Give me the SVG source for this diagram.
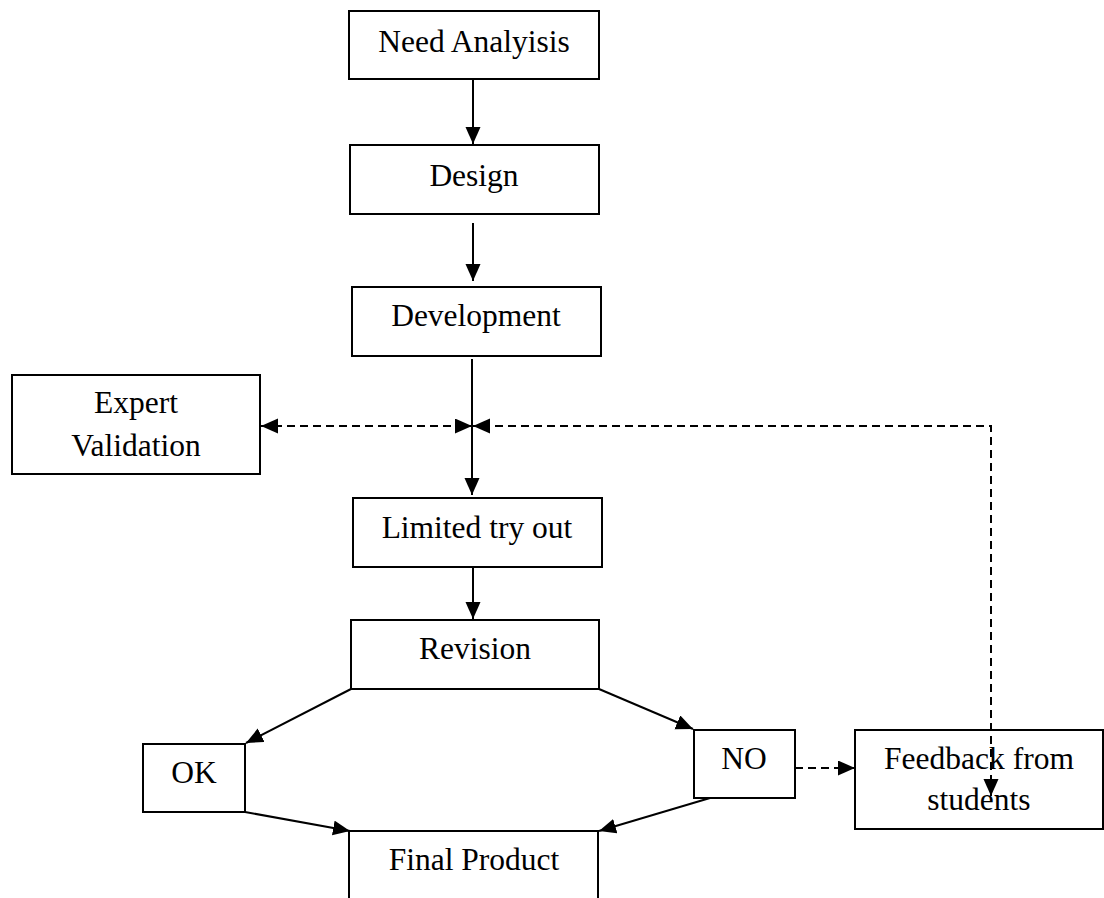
<svg xmlns="http://www.w3.org/2000/svg" width="1104" height="898" viewBox="0 0 1104 898">
<style>
.box{fill:#fff;stroke:#000;stroke-width:2}
.t{font-family:"Liberation Serif","Times New Roman",serif;font-size:31.5px;fill:#000;text-anchor:middle}
.c{fill:none;stroke:#000;stroke-width:2}
.d{fill:none;stroke:#000;stroke-width:2;stroke-dasharray:8 5}
</style>
<defs>
<marker id="ah" markerUnits="userSpaceOnUse" markerWidth="18" markerHeight="16" refX="17" refY="7.5" orient="auto">
<path d="M0,0 L17,7.5 L0,15 Z" fill="#000"/>
</marker>
<marker id="ahs" markerUnits="userSpaceOnUse" markerWidth="18" markerHeight="16" refX="17" refY="7.5" orient="auto-start-reverse">
<path d="M0,0 L17,7.5 L0,15 Z" fill="#000"/>
</marker>
</defs>
<g id="need-analysis">
<rect class="box" x="349" y="11" width="250" height="68"/>
<text class="t" x="474" y="52">Need Analyisis</text>
</g>
<g id="design">
<rect class="box" x="350" y="145" width="249" height="69"/>
<text class="t" x="474" y="186">Design</text>
</g>
<g id="development">
<rect class="box" x="352" y="287" width="249" height="69"/>
<text class="t" x="476" y="326">Development</text>
</g>
<g id="expert-validation">
<rect class="box" x="12" y="375" width="248" height="99"/>
<text class="t" x="136" y="413">Expert</text>
<text class="t" x="136" y="456">Validation</text>
</g>
<g id="limited-try-out">
<rect class="box" x="353" y="498" width="249" height="69"/>
<text class="t" x="477" y="538">Limited try out</text>
</g>
<g id="revision">
<rect class="box" x="351" y="620" width="248" height="69"/>
<text class="t" x="475" y="659">Revision</text>
</g>
<g id="ok">
<rect class="box" x="143" y="744" width="102" height="68"/>
<text class="t" x="194" y="783">OK</text>
</g>
<g id="no">
<rect class="box" x="694" y="730" width="101" height="68"/>
<text class="t" x="744" y="769">NO</text>
</g>
<g id="feedback">
<rect class="box" x="855" y="730" width="248" height="99"/>
<text class="t" x="979" y="769">Feedback from</text>
<text class="t" x="979" y="810">students</text>
</g>
<g id="final-product">
<path class="box" d="M349,900 L349,831 L598,831 L598,900"/>
<text class="t" x="474" y="870">Final Product</text>
</g>
<g id="connectors">
<line class="c" x1="473" y1="79" x2="473" y2="144" marker-end="url(#ah)"/>
<line class="c" x1="473" y1="223" x2="473" y2="281" marker-end="url(#ah)"/>
<line class="c" x1="472" y1="359" x2="472" y2="495" marker-end="url(#ah)"/>
<line class="c" x1="473" y1="567" x2="473" y2="619" marker-end="url(#ah)"/>
<line class="d" x1="261" y1="426" x2="472" y2="426" marker-start="url(#ahs)" marker-end="url(#ah)"/>
<polyline class="d" points="991,796 991,426 473,426" marker-start="url(#ahs)" marker-end="url(#ah)"/>
<line class="c" x1="351" y1="689" x2="246" y2="743" marker-end="url(#ah)"/>
<line class="c" x1="599" y1="689" x2="693" y2="729" marker-end="url(#ah)"/>
<line class="c" x1="245" y1="812" x2="350" y2="831" marker-end="url(#ah)"/>
<line class="c" x1="710" y1="798" x2="599" y2="831" marker-end="url(#ah)"/>
<line class="d" x1="795" y1="768" x2="855" y2="768" marker-end="url(#ah)"/>
</g>
</svg>
